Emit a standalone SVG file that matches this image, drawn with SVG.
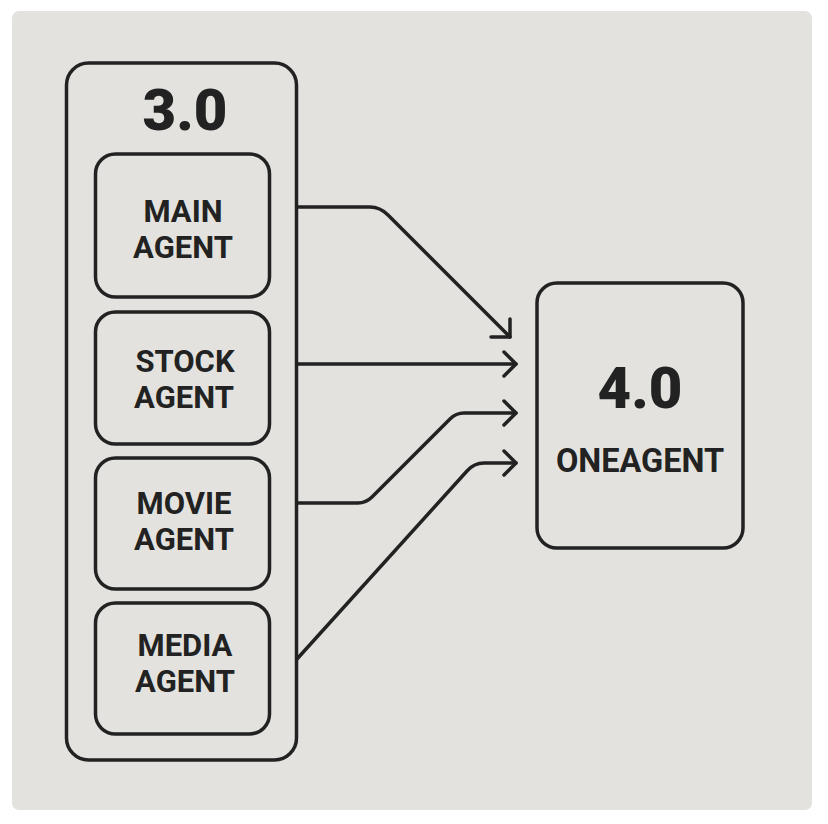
<svg xmlns="http://www.w3.org/2000/svg" width="828" height="824" viewBox="0 0 828 824">
<style>
.box{fill:none;stroke:#222;stroke-width:3.5}
.t{font-family:Roboto,"Liberation Sans",Arial,sans-serif;font-weight:bold;fill:#222;text-anchor:middle}
.lbl{font-size:31px}
.big{font-size:58px;font-weight:900}
.con{fill:none;stroke:#222;stroke-width:3.5;stroke-linecap:round;stroke-linejoin:round}
</style>
<rect x="0" y="0" width="828" height="824" fill="#ffffff"/>
<rect x="12" y="11" width="800" height="799" rx="7" fill="#e3e2de"/>
<g id="group-3-0">
<rect class="box" x="66.5" y="63" width="230" height="697" rx="22"/>
<text class="t big" x="185" y="130">3.0</text>
</g>
<g id="main-agent">
<rect class="box" x="95.5" y="154" width="174" height="143" rx="20"/>
<text class="t lbl" x="183" y="222">MAIN</text>
<text class="t lbl" x="183" y="258">AGENT</text>
</g>
<g id="stock-agent">
<rect class="box" x="95.5" y="312" width="174" height="132" rx="20"/>
<text class="t lbl" x="185" y="372">STOCK</text>
<text class="t lbl" x="184" y="408">AGENT</text>
</g>
<g id="movie-agent">
<rect class="box" x="95.5" y="458" width="174" height="131" rx="20"/>
<text class="t lbl" x="184" y="514">MOVIE</text>
<text class="t lbl" x="184" y="550">AGENT</text>
</g>
<g id="media-agent">
<rect class="box" x="95.5" y="603" width="174" height="131" rx="20"/>
<text class="t lbl" x="185" y="656">MEDIA</text>
<text class="t lbl" x="185" y="692">AGENT</text>
</g>
<g id="oneagent-4-0">
<rect class="box" x="537" y="283" width="206" height="265" rx="20"/>
<text class="t big" x="640" y="408">4.0</text>
<text class="t" style="font-size:32.5px" x="640" y="472">ONEAGENT</text>
</g>
<g id="connectors">
<path class="con" d="M297 207 H370 Q380 207 388 215 L510 337"/>
<path class="con" d="M491 337 H510 V319"/>
<path class="con" d="M297 364 H516"/>
<path class="con" d="M504 352 L516 364 L504 376"/>
<path class="con" d="M297 503 H358 Q366 503 372 497 L450 419 Q456 413 464 413 H516"/>
<path class="con" d="M504 401 L516 413 L504 425"/>
<path class="con" d="M297 659 L467 471 Q474 463 484 463 H516"/>
<path class="con" d="M504 451 L516 463 L504 475"/>
</g>
</svg>
